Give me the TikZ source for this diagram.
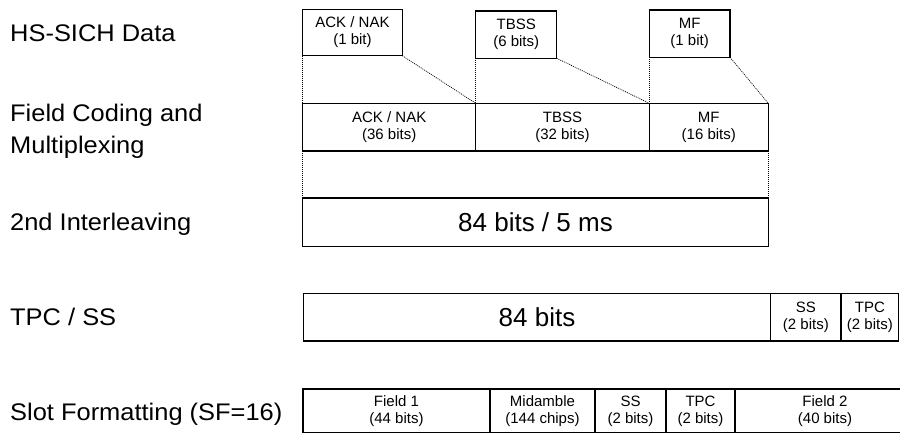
\documentclass[tikz,border=0pt]{standalone}
\usepackage{fontspec}
\setmainfont{Liberation Sans}
\newfontfamily\labelfont{Liberation Sans}[FakeStretch=1.06]
\begin{document}
\begin{tikzpicture}[x=1pt,y=-1pt,
  box/.style={draw, line width=1.3pt, inner sep=0pt, outer sep=0pt, anchor=north west, align=center, font=\fontsize{15}{17}\selectfont},
  bigbox/.style={box, font=\fontsize{26}{30}\selectfont},
  conn/.style={dash pattern=on 1pt off 1pt, line width=0.7pt},
  lbl/.style={inner sep=0pt, anchor=base west, font=\labelfont\fontsize{24}{32}\selectfont, align=left}]
\useasboundingbox (0,0) rectangle (900,432);
\clip (0,0) rectangle (900,432);
% labels
\node[lbl] (l1) at (10,41.7) {HS-SICH Data};
\node[lbl, anchor=north west] (l2) at (10,103.5) {Field Coding and\\Multiplexing};
\node[lbl] (l3) at (10,230) {2nd Interleaving};
\node[lbl] (l4) at (10,325) {TPC / SS};
\node[lbl] (l5) at (10,420) {Slot Formatting (SF=16)};
% row 1
\node[box, minimum width=99.6pt, minimum height=46.4pt] (a1) at (302.7,9.3) {ACK / NAK\\(1 bit)};
\node[box, minimum width=81pt, minimum height=47.3pt] (t1) at (475.7,11) {TBSS\\(6 bits)};
\node[box, minimum width=80.7pt, minimum height=47.3pt] (m1) at (649.3,10) {MF\\(1 bit)};
% row 2
\node[box, minimum width=173pt, minimum height=47.7pt] (a2) at (302.7,103.3) {ACK / NAK\\(36 bits)};
\node[box, minimum width=173.6pt, minimum height=47.7pt] (t2) at (475.7,103.3) {TBSS\\(32 bits)};
\node[box, minimum width=119pt, minimum height=47.7pt] (m2) at (649.3,103.3) {MF\\(16 bits)};
% row 3
\node[bigbox, minimum width=465.6pt, minimum height=48.5pt] (il) at (302.7,198) {84 bits / 5 ms};
% row 4
\node[bigbox, minimum width=467.4pt, minimum height=47.7pt] (d4) at (303.3,293.3) {84 bits};
\node[box, minimum width=70.3pt, minimum height=47.7pt] (s4) at (770.7,293.3) {SS\\(2 bits)};
\node[box, minimum width=57.7pt, minimum height=47.7pt] (p4) at (841,293.3) {TPC\\(2 bits)};
% row 5
\node[box, minimum width=187pt, minimum height=44pt] (f1) at (303,389) {Field 1\\(44 bits)};
\node[box, minimum width=105pt, minimum height=44pt] (mid) at (490,389) {Midamble\\(144 chips)};
\node[box, minimum width=71pt, minimum height=44pt] (ss5) at (595,389) {SS\\(2 bits)};
\node[box, minimum width=69pt, minimum height=44pt] (tp5) at (666,389) {TPC\\(2 bits)};
\node[box, minimum width=180pt, minimum height=44pt] (f2) at (735,389) {Field 2\\(40 bits)};
% connectors
\draw[conn] (a1.south west) -- (a2.north west);
\draw[conn] (a1.south east) -- (t2.north west);
\draw[conn] (t1.south west) -- (t2.north west);
\draw[conn] (t1.south east) -- (m2.north west);
\draw[conn] (m1.south west) -- (m2.north west);
\draw[conn] (m1.south east) -- (m2.north east);
\draw[conn] (a2.south west) -- (il.north west);
\draw[conn] (m2.south east) -- (il.north east);
\end{tikzpicture}
\end{document}
